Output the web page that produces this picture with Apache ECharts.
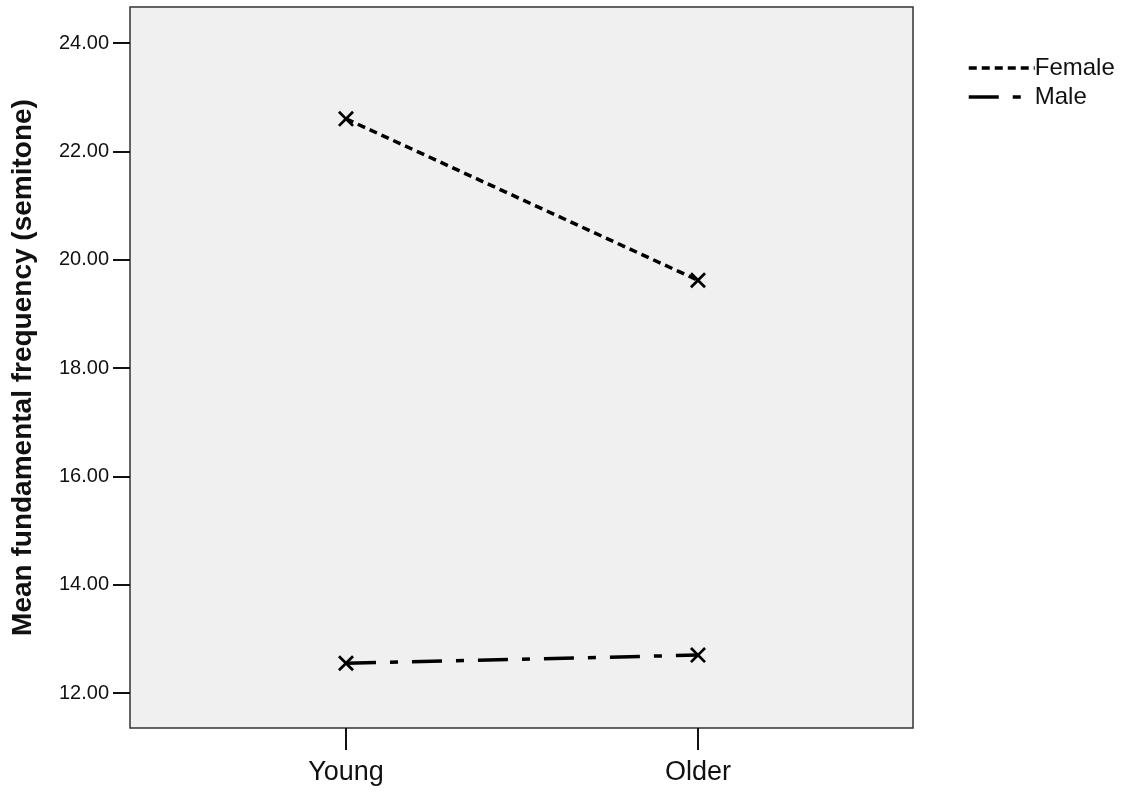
<!DOCTYPE html>
<html>
<head>
<meta charset="utf-8">
<script src="https://cdn.jsdelivr.net/npm/echarts@6/dist/echarts.min.js"></script>
<style>html,body{margin:0;padding:0;background:#fff;}#chart{width:1129px;height:795px;}</style>
</head>
<body>
<div id="chart"></div>
<script>
var categories = ['Young', 'Older'];
var femaleValues = [22.60, 19.62];
var maleValues = [12.55, 12.70];
var yTicks = [12, 14, 16, 18, 20, 22, 24];
var seriesNames = ['Female', 'Male'];

var xSymbol = 'path://M0,1.2 L1.2,0 L5,3.8 L8.8,0 L10,1.2 L6.2,5 L10,8.8 L8.8,10 L5,6.2 L1.2,10 L0,8.8 L3.8,5 Z';
function pts(vals){ return vals.map(function(v,i){ return [i, v]; }); }

var chart = echarts.init(document.getElementById('chart'));
chart.setOption({
  animation: false,
  backgroundColor: '#ffffff',
  textStyle: { fontFamily: 'Liberation Sans, Arial, sans-serif' },
  grid: { left: 130, top: 7, width: 783, height: 721, show: true, backgroundColor: '#f0f0f0', borderColor: '#333333', borderWidth: 1.5 },
  legend: {
    left: 967, top: 56, padding: 0, orient: 'vertical', itemWidth: 66, itemHeight: 20, itemGap: 5,
    textStyle: { fontSize: 24, color: '#111', fontFamily: 'Liberation Sans, Arial, sans-serif', padding: [0,0,0,-5] },
    itemStyle: { opacity: 0 },
    lineStyle: { width: 3.5 },
    data: seriesNames
  },
  xAxis: {
    type: 'value', min: -0.6136, max: 1.6108,
    splitLine: { show: false },
    axisLine: { show: false, onZero: false },
    axisTick: { show: true, length: 22, lineStyle: { color: '#111', width: 2 }, customValues: [0, 1] },
    axisLabel: { show: true, customValues: [0, 1], margin: 31, fontSize: 27, color: '#111',
      formatter: function(v){ return categories[Math.round(v)] || ''; } }
  },
  yAxis: {
    type: 'value', min: 11.354, max: 24.665,
    name: 'Mean fundamental frequency (semitone)', nameLocation: 'middle', nameGap: 93,
    nameTextStyle: { fontSize: 28, fontWeight: 'bold', color: '#111' },
    splitLine: { show: false },
    axisLine: { show: false, onZero: false },
    axisTick: { show: true, length: 17, lineStyle: { color: '#111', width: 2 }, customValues: yTicks },
    axisLabel: { show: true, customValues: yTicks, margin: 21, fontSize: 20, color: '#111',
      formatter: function(v){ return v.toFixed(2); } }
  },
  series: [
    { name: seriesNames[0], type: 'line', data: pts(femaleValues), symbol: xSymbol, symbolSize: 16,
      itemStyle: { color: '#000' }, lineStyle: { color: '#000', width: 3.5, type: [8, 5] } },
    { name: seriesNames[1], type: 'line', data: pts(maleValues), symbol: xSymbol, symbolSize: 16,
      itemStyle: { color: '#000' }, lineStyle: { color: '#000', width: 3.5, type: [30, 14, 8, 14] } }
  ]
});
</script>
</body>
</html>
